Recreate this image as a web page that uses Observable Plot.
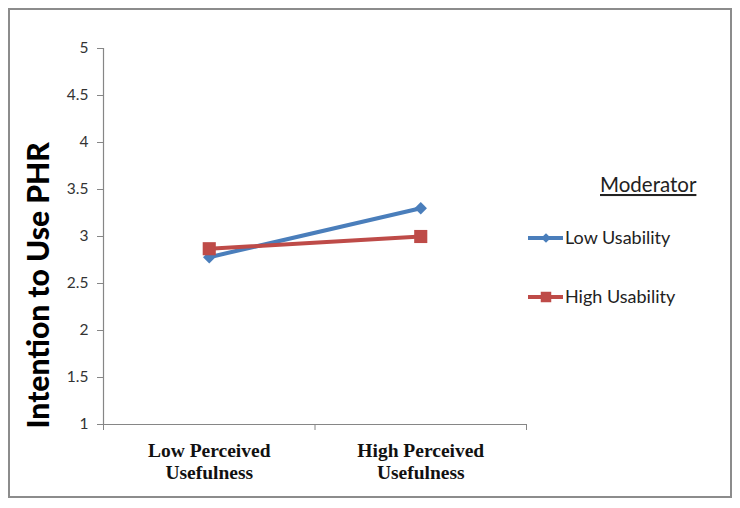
<!DOCTYPE html>
<html>
<head>
<meta charset="utf-8">
<script src="https://cdn.jsdelivr.net/npm/d3@7"></script>
<script src="https://cdn.jsdelivr.net/npm/@observablehq/plot@0.6"></script>
<style>
  html, body { margin: 0; padding: 0; background: #fff; }
  #wrap { position: relative; width: 740px; height: 508px; overflow: hidden; }
  #frame { position: absolute; left: 8px; top: 8px; width: 720px; height: 486px; border: 2px solid #8c8c8c; pointer-events: none; }
  #wrap svg { position: absolute; left: 0; top: 0; }
</style>
</head>
<body>
<div id="wrap"><div id="frame"></div></div>
<script>
// ---- data ----
const categories = ["Low Perceived\nUsefulness", "High Perceived\nUsefulness"];
const seriesNames = ["Low Usability", "High Usability"];
const lowUsability = [2.78, 3.30];
const highUsability = [2.87, 3.00];
const yTicks = [1, 1.5, 2, 2.5, 3, 3.5, 4, 4.5, 5];
const yTitle = "Intention to Use PHR";
const legendTitle = "Moderator";

const blue = "#4A7EBB";
const red = "#BE4B48";
const axisGray = "#868686";

const rows = [];
[lowUsability, highUsability].forEach((vals, s) => {
  vals.forEach((v, i) => rows.push({series: seriesNames[s], pos: i + 0.5, value: v}));
});
const catRows = categories.map((c, i) => ({label: c, pos: i + 0.5}));
const lowRows = rows.filter(d => d.series === seriesNames[0]);
const highRows = rows.filter(d => d.series === seriesNames[1]);

const chart = Plot.plot({
  width: 740,
  height: 508,
  marginLeft: 103,
  marginRight: 214,
  marginTop: 48,
  marginBottom: 84,
  style: {fontFamily: "Lato, 'Liberation Sans', sans-serif", fontSize: "15px", color: "#333", background: "transparent"},
  x: {type: "linear", domain: [0, categories.length], axis: null},
  y: {domain: [1, 5], axis: null},
  marks: [
    Plot.axisY({ticks: yTicks, tickSize: 6, tickPadding: 9, label: null, fontSize: 15.5, tickFormat: d => String(d)}),
    Plot.axisX({ticks: d3.range(categories.length + 1), tickSize: 6, tickFormat: () => "", label: null}),
    Plot.ruleX([0], {y1: 1, y2: 5, stroke: axisGray, strokeWidth: 1.2}),
    Plot.ruleY([1], {x1: 0, x2: categories.length, stroke: axisGray, strokeWidth: 1.2}),
    Plot.line(lowRows, {x: "pos", y: "value", stroke: blue, strokeWidth: 4}),
    Plot.line(highRows, {x: "pos", y: "value", stroke: red, strokeWidth: 4}),
    Plot.dot(lowRows, {x: "pos", y: "value", symbol: "diamond2", r: 5.6, fill: blue, stroke: null}),
    Plot.dot(highRows, {x: "pos", y: "value", symbol: "square", r: 7.4, fill: red, stroke: null}),
    Plot.text(catRows, {x: "pos", text: "label", frameAnchor: "bottom", lineAnchor: "top", dy: 17,
      lineHeight: 1.13, fontFamily: "'Liberation Serif', 'Times New Roman', serif", fontWeight: "bold", fontSize: 19.5, fill: "#111"}),
    Plot.text([yTitle], {frameAnchor: "bottom-left", rotate: -90, textAnchor: "start", lineAnchor: "middle",
      dx: -64, dy: 4, fontFamily: "Lato, 'Liberation Sans', sans-serif", fontWeight: 900, fontSize: 30, fill: "#000"})
  ]
});

d3.select(chart).selectAll('[aria-label="y-axis tick"], [aria-label="x-axis tick"]').attr("stroke", axisGray);
d3.select(chart).selectAll('[aria-label="y-axis tick label"]').attr("fill", "#333");

const wrap = document.getElementById("wrap");
wrap.appendChild(chart);

// ---- legend overlay ----
const leg = d3.select(wrap).append("svg")
  .attr("width", 740).attr("height", 508)
  .style("pointer-events", "none")
  .style("font-family", "Lato, 'Liberation Sans', sans-serif");

leg.append("text").attr("x", 600).attr("y", 192).attr("font-size", 20.5).attr("fill", "#222")
  .attr("text-decoration", "underline").text(legendTitle);

const items = [
  {name: seriesNames[0], color: blue, sym: d3.symbolDiamond2, size: 60, y: 238},
  {name: seriesNames[1], color: red, sym: d3.symbolSquare, size: 110, y: 297}
];
items.forEach(it => {
  leg.append("line").attr("x1", 528).attr("x2", 563).attr("y1", it.y).attr("y2", it.y)
    .attr("stroke", it.color).attr("stroke-width", 4);
  leg.append("path").attr("d", d3.symbol(it.sym, it.size)()).attr("transform", `translate(546,${it.y})`)
    .attr("fill", it.color);
  leg.append("text").attr("x", 565).attr("y", it.y + 6).attr("font-size", 18).attr("fill", "#222").text(it.name);
});
</script>
</body>
</html>
